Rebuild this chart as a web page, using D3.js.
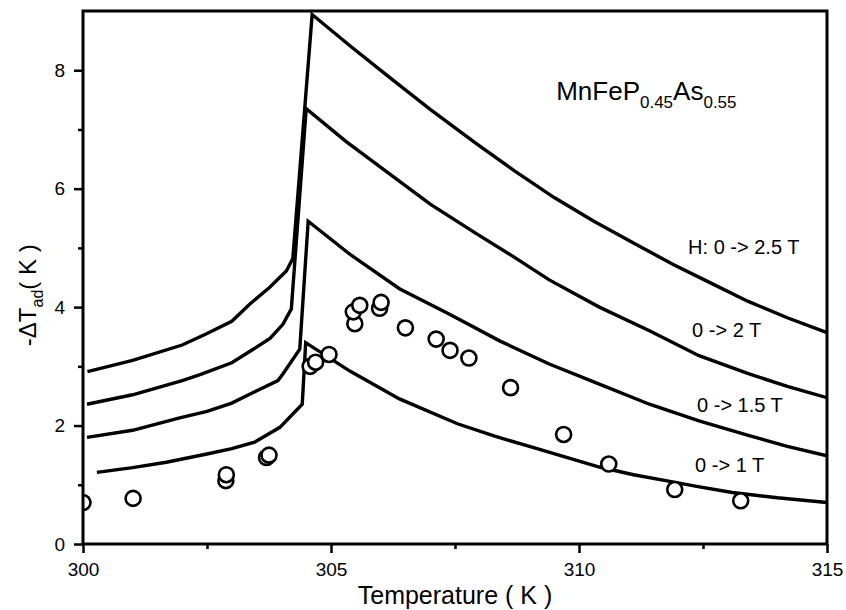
<!DOCTYPE html>
<html>
<head>
<meta charset="utf-8">
<script src="https://cdn.jsdelivr.net/npm/d3@7"></script>
<style>
  body { margin: 0; background: #fff; }
  svg text { font-family: "Liberation Sans", Arial, Helvetica, sans-serif; fill: #000; }
</style>
</head>
<body>
<svg id="body" width="846" height="610"></svg>
<script>
// curve for H: 0 -> 2.5 T  [temperature, -dTad]
let field25 = [[300.09,2.91],[301.0,3.10],[302.0,3.36],[302.49,3.55],[303.0,3.76],[303.36,4.05],[303.76,4.33],[304.1,4.61],[304.23,4.82],
  [304.62,8.94],[305.4,8.40],[306.18,7.88],[307.0,7.34],[307.93,6.76],[308.7,6.30],[309.5,5.85],[310.3,5.45],[311.08,5.09],
  [311.9,4.72],[312.6,4.43],[313.4,4.10],[314.2,3.82],[315,3.57]]

// curve for 0 -> 2 T
let field20 = [[300.08,2.36],[301.0,2.52],[302.0,2.76],[302.36,2.86],[303.0,3.06],[303.36,3.25],[303.77,3.47],[304.03,3.71],[304.2,3.97],
  [304.50,7.35],[305.3,6.80],[306.18,6.25],[307.0,5.74],[307.93,5.24],[308.7,4.84],[309.4,4.46],[310.41,4.00],[311.42,3.60],
  [312.42,3.18],[313.4,2.88],[314.2,2.66],[315,2.47]]

// curve for 0 -> 1.5 T
let field15 = [[300.08,1.80],[301.0,1.92],[301.95,2.13],[302.5,2.24],[303.0,2.38],[303.36,2.53],[303.93,2.76],[304.03,2.87],[304.37,3.29],
  [304.54,5.45],[305.4,4.88],[306.38,4.31],[307.39,3.88],[308.4,3.43],[309.4,3.04],[310.41,2.70],[311.42,2.36],[312.42,2.08],
  [313.43,1.83],[314.2,1.65],[315,1.49]]

// curve for 0 -> 1 T
let field10 = [[300.28,1.21],[301.0,1.29],[301.68,1.38],[302.5,1.52],[303.0,1.61],[303.46,1.72],[303.97,1.97],[304.42,2.36],
  [304.49,3.40],[305.38,2.92],[306.38,2.45],[307.55,2.03],[308.3,1.82],[309.07,1.63],[309.8,1.45],[310.41,1.30],[311.1,1.17],
  [311.75,1.07],[312.4,0.97],[313.09,0.87],[314.0,0.78],[315,0.70]]

// measured points (open circles)
let measured = [[300.0,0.70],[301.01,0.77],[302.88,1.07],[302.89,1.17],[303.70,1.46],[303.75,1.50],[304.58,3.00],[304.69,3.07],
  [304.96,3.20],[305.48,3.72],[305.45,3.92],[305.58,4.03],[305.98,3.98],[306.01,4.08],[306.50,3.65],[307.12,3.46],[307.40,3.27],
  [307.78,3.14],[308.62,2.64],[309.69,1.85],[310.60,1.35],[311.93,0.92],[313.26,0.73]]

// field labels, placed in data units
let fieldLabels = ["H: 0 -> 2.5 T", "0 -> 2 T", "0 -> 1.5 T", "0 -> 1 T"]
let labelT = [312.20, 312.28, 312.38, 312.34]
let labelV = [4.90, 3.50, 2.23, 1.22]

let xMajor = [300, 305, 310, 315]
let xMinor = [302.5, 307.5, 312.5]
let yMajor = [0, 2, 4, 6, 8]
let yMinor = [1, 3, 5, 7]

let svg = d3.select("#body")

//Set dimensions and margins of graph
let margin = {top: 11, right: 19, bottom: 66, left: 83}
let bodyWidth = 846 - margin.left - margin.right
let bodyHeight = 610 - margin.top - margin.bottom

let body = svg.append("g")
  .attr("transform", "translate(" + margin.left + "," + margin.top + ")")

let xscale = d3.scaleLinear().domain([300, 315]).range([0, bodyWidth])
let yscale = d3.scaleLinear().domain([0, 9]).range([bodyHeight, 0])

body.append("clipPath").attr("id", "clip")
  .append("rect").attr("width", bodyWidth).attr("height", bodyHeight)

let valueLine = d3.line()
  .x(d => xscale(d[0]))
  .y(d => yscale(d[1]))

let plot = body.append("g").attr("clip-path", "url(#clip)")

//Add the four model curves
;[field25, field20, field15, field10].forEach(series => {
  plot.append("path")
    .datum(series)
    .attr("d", valueLine)
    .attr("fill", "none")
    .attr("stroke", "#000")
    .attr("stroke-width", 3.4)
    .attr("stroke-linejoin", "miter")
})

//Add the measured circles
plot.append("g").selectAll("circle")
  .data(measured)
  .enter()
  .append("circle")
  .attr("cx", d => xscale(d[0]))
  .attr("cy", d => yscale(d[1]))
  .attr("r", 7.5)
  .attr("fill", "#fff")
  .attr("stroke", "#000")
  .attr("stroke-width", 2.6)

//Axes: major ticks with labels, minor ticks without
function styleAxis(g) {
  g.select(".domain").remove()
  g.selectAll(".tick line").attr("stroke", "#000").attr("stroke-width", 2.5)
  g.selectAll("text").style("font-size", "19px")
}

body.append("g")
  .attr("transform", "translate(0," + bodyHeight + ")")
  .call(d3.axisBottom(xscale).tickValues(xMajor).tickSize(9).tickPadding(10).tickFormat(d3.format("d")))
  .call(styleAxis)

body.append("g")
  .attr("transform", "translate(0," + bodyHeight + ")")
  .call(d3.axisBottom(xscale).tickValues(xMinor).tickSize(5).tickFormat(""))
  .call(styleAxis)

body.append("g")
  .call(d3.axisLeft(yscale).tickValues(yMajor).tickSize(9).tickPadding(9).tickFormat(d3.format("d")))
  .call(styleAxis)

body.append("g")
  .call(d3.axisLeft(yscale).tickValues(yMinor).tickSize(5).tickFormat(""))
  .call(styleAxis)

//Frame
body.append("rect")
  .attr("width", bodyWidth)
  .attr("height", bodyHeight)
  .attr("fill", "none")
  .attr("stroke", "#000")
  .attr("stroke-width", 3)

//Axis titles
body.append("text")
  .attr("x", bodyWidth / 2)
  .attr("y", bodyHeight + 60)
  .attr("text-anchor", "middle")
  .style("font-size", "25px")
  .text("Temperature ( K )")

let ytitle = body.append("text")
  .attr("transform", "translate(" + (-47) + "," + (yscale(4.2)) + ") rotate(-90)")
  .attr("text-anchor", "middle")
  .style("font-size", "24px")
ytitle.append("tspan").text("-\u0394T")
ytitle.append("tspan").attr("dy", 7).style("font-size", "16px").text("ad")
ytitle.append("tspan").attr("dy", -7).text("( K )")

//Compound name
let comp = body.append("text")
  .attr("x", xscale(309.54))
  .attr("y", yscale(7.5))
  .style("font-size", "26px")
comp.append("tspan").text("MnFeP")
comp.append("tspan").attr("dy", 8).style("font-size", "17px").text("0.45")
comp.append("tspan").attr("dy", -8).text("As")
comp.append("tspan").attr("dy", 8).style("font-size", "17px").text("0.55")

//Field labels
body.append("g").selectAll("text")
  .data(fieldLabels)
  .enter()
  .append("text")
  .attr("x", (d, i) => xscale(labelT[i]))
  .attr("y", (d, i) => yscale(labelV[i]))
  .style("font-size", "20px")
  .text(d => d)
</script>
</body>
</html>
